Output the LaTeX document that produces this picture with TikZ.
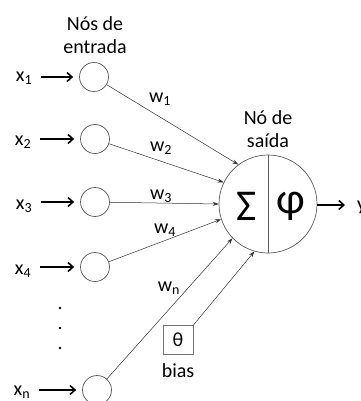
\documentclass[tikz,border=0pt]{standalone}
\usepackage{fontspec}
\setmainfont{Carlito}
\usetikzlibrary{arrows.meta}
\begin{document}
\begin{tikzpicture}[x=1pt,y=-1pt,
  every node/.style={font=\fontsize{20}{23}\selectfont},
  innode/.style={circle,draw=black!65,line width=0.7pt,minimum size=29pt,inner sep=0pt},
  outnode/.style={circle,draw=black!65,line width=0.7pt,minimum size=98pt,inner sep=0pt},
  weightline/.style={draw=black!80,line width=0.5pt,-{Stealth[length=6pt,width=4pt]}},
  inarrow/.style={draw=black,line width=1.8pt,-{Straight Barb[length=5pt,width=9pt,line width=1.6pt]}},
  lbl/.style={inner sep=0pt,align=center},
  big/.style={lbl,font=\fontsize{44}{44}\selectfont},
  dot/.style={circle,fill=black,inner sep=0pt,minimum size=2.8pt}]
\useasboundingbox (0,0) rectangle (360,401);

% input nodes
\node[innode] (in1) at (94,77) {};
\node[innode] (in2) at (95,139) {};
\node[innode] (in3) at (95,202) {};
\node[innode] (in4) at (95,267) {};
\node[innode] (inn) at (97,390) {};

% input labels
\node[lbl] (x1) at (24,78) {x\textsubscript{1}};
\node[lbl] (x2) at (23,142) {x\textsubscript{2}};
\node[lbl] (x3) at (24,206) {x\textsubscript{3}};
\node[lbl] (x4) at (23,271) {x\textsubscript{4}};
\node[lbl] (xn) at (22,392) {x\textsubscript{n}};

\foreach \s/\t in {x1/in1,x2/in2,x3/in3,x4/in4,xn/inn}
  \draw[inarrow,shorten <=9pt,shorten >=6pt] (\s.east |- \t) -- (\t);

% vertical dots
\node[dot] (d1) at (60,308) {};
\node[dot] (d2) at (60,328) {};
\node[dot] (d3) at (60,348) {};

% titles
\node[lbl] (tin) at (95,35) {Nós de\\entrada};
\node[lbl] (tout) at (268,129) {Nó de\\saída};

% output node
\node[outnode] (out) at (268,204) {};
\draw[black!65,line width=0.7pt] (out.north) -- (out.south);
\node[big] (sig) at (247,206) {Σ};
\node[big] (phi) at (291,206) {φ};

% bias
\node[draw=black!55,line width=0.7pt,minimum width=30pt,minimum height=29pt,inner sep=0pt] (theta) at (178,340) {θ};
\node[lbl] (bias) at (178,371) {bias};

% weighted connections
\draw[weightline] (in1) -- (out.127);
\draw[weightline] (in2) -- (out.154);
\draw[weightline] (in3) -- (out.180);
\draw[weightline] (in4) -- (out.198);
\draw[weightline] (inn) -- (out.224);
\draw[weightline] (theta.north east) -- (out.254);

\node[lbl] (w1) at (160,99) {w\textsubscript{1}};
\node[lbl] (w2) at (161,148) {w\textsubscript{2}};
\node[lbl] (w3) at (161,196) {w\textsubscript{3}};
\node[lbl] (w4) at (165,230) {w\textsubscript{4}};
\node[lbl] (wn) at (169,288) {w\textsubscript{n}};

% output
\coordinate (yend) at (345,205);
\draw[inarrow,shorten >=0pt] (out.east |- yend) -- (yend);
\node[lbl,anchor=west] (y) at (357,207) {y};
\end{tikzpicture}
\end{document}
